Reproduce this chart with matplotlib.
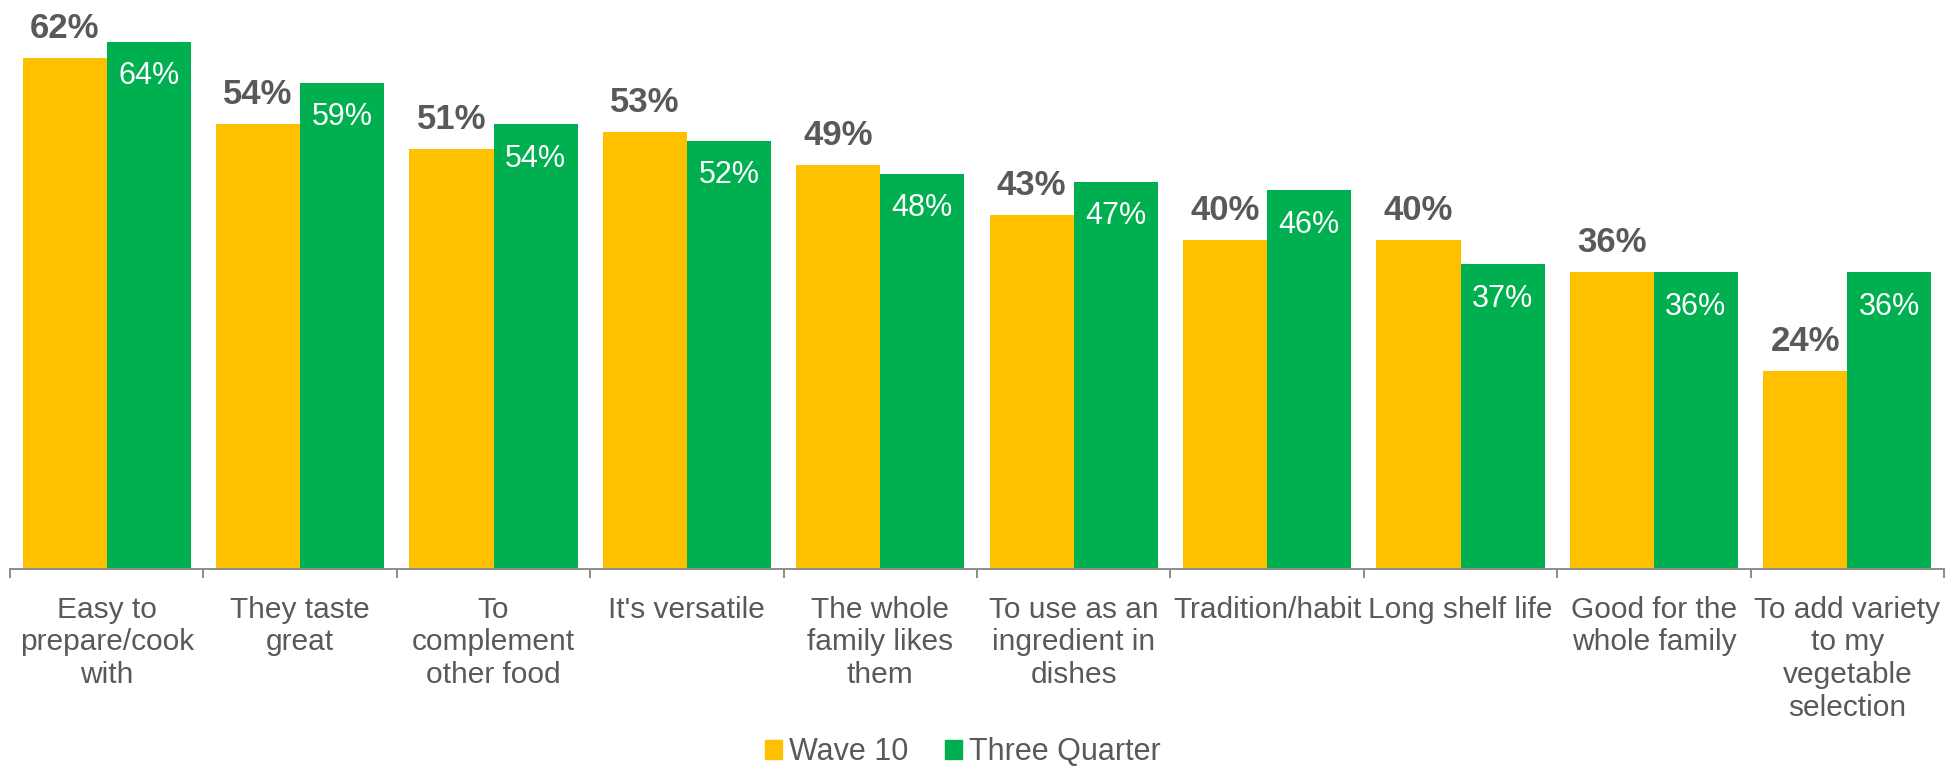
import matplotlib
matplotlib.use("Agg")
import matplotlib.pyplot as plt
from matplotlib.patches import Patch
import numpy as np

plt.rcParams['font.family'] = ['Liberation Sans', 'DejaVu Sans']

categories = [
    "Easy to\nprepare/cook\nwith",
    "They taste\ngreat",
    "To\ncomplement\nother food",
    "It's versatile",
    "The whole\nfamily likes\nthem",
    "To use as an\ningredient in\ndishes",
    "Tradition/habit",
    "Long shelf life",
    "Good for the\nwhole family",
    "To add variety\nto my\nvegetable\nselection",
]
wave10 = [62, 54, 51, 53, 49, 43, 40, 40, 36, 24]
three_quarter = [64, 59, 54, 52, 48, 47, 46, 37, 36, 36]
series_names = ["Wave 10", "Three Quarter"]

YELLOW = "#FFC000"
GREEN = "#00B050"
TEXT_GRAY = "#595959"
AXIS_GRAY = "#8C8C8C"

W, H, DPI = 1960, 768, 100
fig = plt.figure(figsize=(W / DPI, H / DPI), dpi=DPI)

base_px = 569.3
left_px, right_px = 10, 1944
ax = fig.add_axes([left_px / W, (H - base_px) / H, (right_px - left_px) / W, base_px / H])

x = np.arange(len(categories))
bw = 0.4345
b1 = ax.bar(x - bw / 2, wave10, bw, color=YELLOW, label=series_names[0])
b2 = ax.bar(x + bw / 2, three_quarter, bw, color=GREEN, label=series_names[1])

ax.set_xlim(-0.5, len(categories) - 0.5)
ax.set_ylim(0, 69.05)

for rect, v in zip(b1, wave10):
    ax.annotate(f"{v}%", (rect.get_x() + rect.get_width() / 2, rect.get_height()),
                xytext=(0, 14.4), textcoords="offset points",
                ha="center", va="baseline", fontsize=25, fontweight="bold",
                color=TEXT_GRAY)
for rect, v in zip(b2, three_quarter):
    ax.annotate(f"{v}%", (rect.get_x() + rect.get_width() / 2, rect.get_height()),
                xytext=(0, -30.7), textcoords="offset points",
                ha="center", va="baseline", fontsize=22, color="white")

for s in ["top", "right", "left"]:
    ax.spines[s].set_visible(False)
ax.spines["bottom"].set_color(AXIS_GRAY)
ax.spines["bottom"].set_linewidth(1.4)
ax.set_yticks([])

# boundary ticks without labels, category labels on minor ticks at the centres
ax.set_xticks(np.arange(-0.5, len(categories), 1.0))
ax.set_xticklabels([])
ax.tick_params(axis="x", which="major", length=6.5, width=1.4, color=AXIS_GRAY)
ax.set_xticks(x, minor=True)
ax.set_xticklabels(categories, minor=True, fontsize=21.5, color=TEXT_GRAY,
                   linespacing=1.21)
ax.tick_params(axis="x", which="minor", length=0, pad=19)

handles = [Patch(color=YELLOW), Patch(color=GREEN)]
fig.legend(handles, series_names, loc="center", bbox_to_anchor=(963 / W, 1 - 752 / H),
           ncol=2, frameon=False, fontsize=22, labelcolor=TEXT_GRAY,
           handlelength=0.56, handleheight=0.56, handletextpad=0.23,
           columnspacing=1.18, borderpad=0, borderaxespad=0)

fig.savefig("out.png", dpi=DPI)
